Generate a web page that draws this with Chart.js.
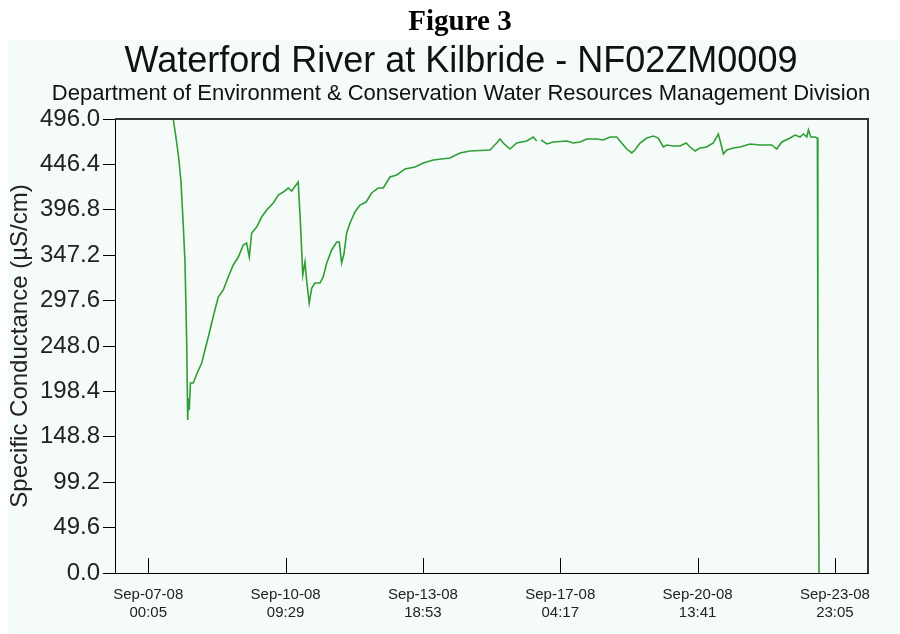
<!DOCTYPE html>
<html><head><meta charset="utf-8">
<script src="https://cdn.jsdelivr.net/npm/chart.js@4/dist/chart.umd.min.js"></script>
<style>
html,body{margin:0;padding:0;background:#fff;width:900px;height:634px;overflow:hidden;position:relative;}
#bg{position:absolute;left:8px;top:40px;width:892px;height:594px;background:#f5fbf8;}
#wrap{position:absolute;left:0;top:0;width:900px;height:634px;}
.t{position:absolute;left:0;width:922px;text-align:center;white-space:nowrap;color:#000;line-height:1;}
#fig{font-family:'Liberation Serif',serif;font-weight:bold;font-size:29px;width:920px;top:6px;}
#title{font-family:'Liberation Sans',Arial,sans-serif;font-size:36px;top:42px;color:#111;}
#sub{font-family:'Liberation Sans',Arial,sans-serif;font-size:22px;top:82px;color:#111;}
</style></head>
<body>
<div id="bg"></div>
<div id="wrap"><canvas id="c" width="900" height="634"></canvas></div>
<div class="t" id="fig">Figure 3</div>
<div class="t" id="title">Waterford River at Kilbride - NF02ZM0009</div>
<div class="t" id="sub">Department of Environment &amp; Conservation Water Resources Management Division</div>
<script>
// hours since Sep-07-08 00:05
const hours = [14.8,16.8,18.2,19.4,20.7,21.8,22.8,23.4,23.8,24.3,25.0,26.7,29.0,31.7,33.6,35.6,37.6,39.5,41.5,44.5,47.4,50.4,53.4,56.3,58.3,59.9,61.3,64.3,67.2,70.2,74.1,77.1,80.0,83.0,85.0,88.9,90.2,91.6,92.9,93.9,95.4,96.9,98.8,101.8,103.7,105.8,108.7,111.7,113.2,114.6,116.0,117.6,119.6,122.5,125.5,129.1,132.4,136.3,139.3,143.3,147.3,152.2,158.1,163.0,168.9,178.8,184.8,190.7,202.6,206.5,208.5,210.4,214.4,218.4,224.3,228.2,230.2,231.5,232.8,236.2,240.1,248.0,251.9,255.9,259.9,265.8,269.7,273.7,277.7,280.6,283.6,286.6,288.5,291.5,295.5,299.4,302.3,305.3,307.3,311.2,315.2,318.8,321.1,324.1,327.0,331.0,334.9,337.9,339.3,340.9,342.9,346.8,350.8,356.7,362.6,369.6,372.5,375.5,380.4,383.4,386.3,388.3,390.3,391.3,392.7,395.2,396.6,396.9,397.6];
// specific conductance (µS/cm); null = missing record
const conductance = [496,471.2,451.2,427.5,382.4,338.7,251.3,167.2,191.2,178.0,207.6,207.6,218.5,229.4,243.6,257.8,273.1,287.3,301.5,309.2,323.4,336.5,345.2,358.3,360.5,345.2,371.5,378.0,388.9,396.6,404.2,413.0,416.2,420.6,417.3,427.2,382.4,325.6,339.8,319.0,295.0,311.4,316.8,316.8,323.4,338.7,352.9,361.6,361.6,338.7,348.5,371.5,382.4,394.4,402.0,405.3,415.2,420.6,420.6,432.6,434.8,441.4,443.6,447.9,451.2,453.4,458.9,461.0,462.1,469.8,474.1,469.8,463.2,469.8,472.0,476.3,472.0,null,473.1,468.7,470.9,472.0,469.8,470.9,474.1,474.1,473.1,476.3,476.3,469.8,463.2,458.9,462.1,469.8,475.2,477.4,475.2,465.4,467.6,466.5,466.5,469.8,465.4,461.0,464.3,465.4,469.8,479.6,469.8,457.8,462.1,464.3,465.4,468.7,467.6,467.6,463.2,470.9,475.2,478.5,476.3,479.6,476.3,484.0,476.3,476.3,475.2,236.0,0];
const xTickHours = [0,81.4,162.8,244.2,325.6,407.0];
const xTickLabels = [["Sep-07-08","00:05"],["Sep-10-08","09:29"],["Sep-13-08","18:53"],["Sep-17-08","04:17"],["Sep-20-08","13:41"],["Sep-23-08","23:05"]];
const yTicks = [0,24.8,49.6,74.4,99.2,124,148.8,173.6,198.4,223.2,248,272.8,297.6,322.4,347.2,372,396.8,421.6,446.4,471.2,496];
const yLabelEvery = 2;

const points = hours.map((h,i)=>({x:h,y:conductance[i]}));

const frame = {
  id:'frame',
  afterDatasetsDraw(chart){
    const {ctx, chartArea:a, scales:{x}} = chart;
    ctx.save();
    ctx.strokeStyle='#000'; ctx.lineWidth=1;
    x.ticks.forEach(t=>{
      const px = Math.round(x.getPixelForValue(t.value))+0.5;
      ctx.beginPath(); ctx.moveTo(px,a.bottom); ctx.lineTo(px,a.bottom-15); ctx.stroke();
    });
    ctx.strokeStyle='#333'; ctx.lineWidth=2;
    ctx.beginPath(); ctx.moveTo(a.left,a.top); ctx.lineTo(a.right,a.top); ctx.lineTo(a.right,a.bottom); ctx.stroke();
    ctx.restore();
  }
};

new Chart(document.getElementById('c'), {
  type:'line',
  data:{datasets:[{data:points,borderColor:'#2f9e35',borderWidth:1.6,pointRadius:0,tension:0,spanGaps:false,fill:false}]},
  options:{
    responsive:false,animation:false,
    layout:{padding:{top:119,right:32,left:0,bottom:0}},
    plugins:{legend:{display:false},tooltip:{enabled:false},title:{display:false}},
    scales:{
      x:{type:'linear',min:-19.7,max:426.6,
        afterFit(s){s.height=61;},
        afterBuildTicks(s){s.ticks=xTickHours.map(v=>({value:v}));},
        grid:{drawOnChartArea:false,drawTicks:false},
        border:{color:'#000',width:1},
        ticks:{autoSkip:false,maxRotation:0,padding:13,color:'#222',
          font:{family:'Liberation Sans',size:15,lineHeight:1.2},
          callback:(v,i)=>xTickLabels[i]}
      },
      y:{type:'linear',min:0,max:496,
        afterFit(s){s.width=115;},
        afterBuildTicks(s){s.ticks=yTicks.map(v=>({value:v}));},
        grid:{drawOnChartArea:false,drawTicks:true,tickLength:12,tickColor:'#000'},
        border:{color:'#000',width:1},
        ticks:{padding:3,color:'#222',font:{family:'Liberation Sans',size:24},
          callback:(v,i)=> i%yLabelEvery===0 ? Number(v).toFixed(1) : ''},
        title:{display:true,text:'Specific Conductance (µS/cm)',color:'#222',
          font:{family:'Liberation Sans',size:24},padding:{top:6,bottom:0}}
      }
    }
  },
  plugins:[frame]
});
</script>
</body></html>
